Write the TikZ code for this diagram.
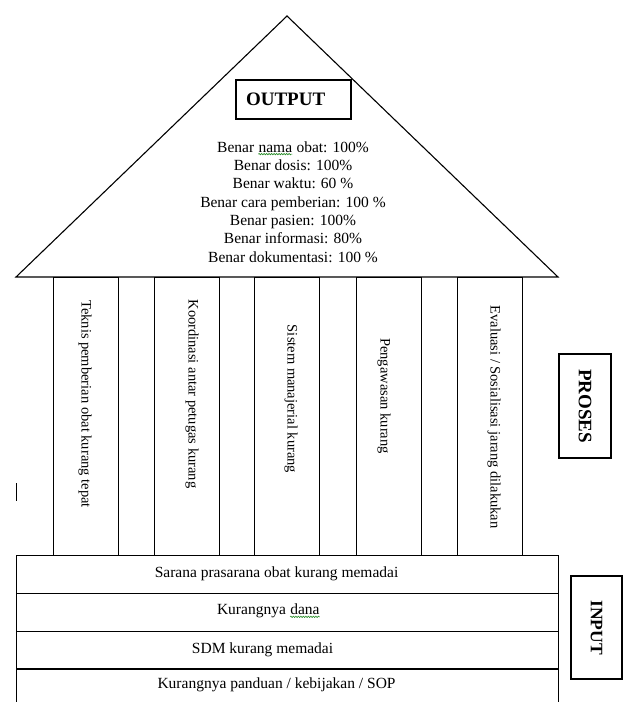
\documentclass[tikz,border=0pt]{standalone}
\usepackage{fontspec}
\setmainfont{Liberation Serif}
\usetikzlibrary{positioning,decorations.pathmorphing}

\definecolor{spellgreen}{RGB}{40,140,40}
\newcommand{\spellmark}[1]{\tikz[baseline=(w.base)]{\node[inner sep=0pt] (w) {#1};
  \draw[spellgreen,line width=0.6pt,decorate,decoration={snake,amplitude=0.7pt,segment length=2.5pt}]
    ([yshift=-1.5pt]w.south west) -- ([yshift=-1.5pt]w.south east);}}

\begin{document}
\begin{tikzpicture}[
  x=1pt,y=-1pt,
  line width=1.1pt,
  tag/.style={draw,font=\fontsize{19}{22}\selectfont\bfseries,inner sep=0pt},
  pillar/.style={draw,minimum width=65pt,minimum height=278pt,inner sep=0pt},
  pillartext/.style={rotate=-90,font=\fontsize{14.5}{17}\selectfont,inner sep=0pt},
  band/.style={draw,minimum width=542pt,minimum height=38pt,inner sep=0pt},
  bandtext/.style={font=\fontsize{15.5}{18}\selectfont,inner sep=0pt},
  every node/.style={align=center}]

  \useasboundingbox (0,0) rectangle (624,702);

  % Roof with the output
  \coordinate (top) at (287,16);
  \coordinate (eaveL) at (16,277);
  \coordinate (eaveR) at (558,277);
  \draw (top) -- (eaveL) -- (eaveR) -- cycle;

  \node[tag,minimum width=115pt,minimum height=39pt,text width=95pt,align=left] (output) at (293.5,99.5) {OUTPUT};
  \node[font=\fontsize{15.5}{18.33}\selectfont] (result) at (293,202) {Benar \spellmark{nama} obat: 100\%\\
    Benar dosis: 100\%\\
    Benar waktu: 60 \%\\
    Benar cara pemberian: 100 \%\\
    Benar pasien: 100\%\\
    Benar informasi: 80\%\\
    Benar dokumentasi: 100 \%};

  % Pillars (proses)
  \foreach \x/\n in {53/1,154/2,254/3,356/4,457/5}
    \node[pillar,anchor=north west] (p\n) at (\x,277) {};

  \node[pillartext] (t1) at (85,404) {Teknis pemberian obat kurang tepat};
  \node[pillartext] (t2) at (192,394) {Koordinasi antar petugas kurang};
  \node[pillartext] (t3) at (291,399) {Sistem manajerial kurang};
  \node[pillartext] (t4) at (384,396) {Pengawasan kurang};
  \node[pillartext] (t5) at (494,417) {Evaluasi / Sosialisasi jarang dilakukan};

  % Foundation (input)
  \foreach \y/\n in {555/1,593/2,631/3,668/4}
    \node[band,anchor=north west] (b\n) at (16,\y) {};

  \node[bandtext,below=11pt of b1.north,xshift=-11pt] (i1) {Sarana prasarana obat kurang memadai};
  \node[bandtext,below=11pt of b2.north,xshift=-19pt] (i2) {Kurangnya \spellmark{dana}};
  \node[bandtext,below=11pt of b3.north,xshift=-25pt] (i3) {SDM kurang memadai};
  \node[bandtext,below=9pt of b4.north,xshift=-11pt] (i4) {Kurangnya panduan / kebijakan / SOP};

  % Side labels
  \node[tag,rotate=-90,minimum width=104pt,minimum height=52pt] (proses) at (585,406) {PROSES};
  \node[tag,rotate=-90,minimum width=103pt,minimum height=51pt,font=\fontsize{17.5}{20}\selectfont\bfseries] (input) at (596.5,627.5) {INPUT};

  \draw[line width=1pt] (16,483) -- (16,501);

\end{tikzpicture}
\end{document}
